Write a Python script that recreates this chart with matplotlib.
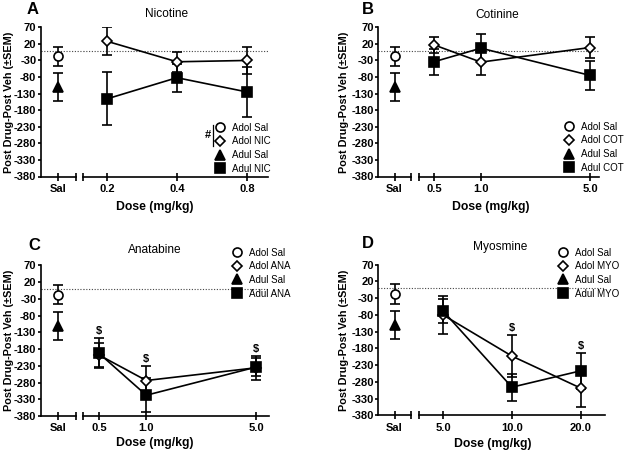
import matplotlib
matplotlib.use('Agg')
import matplotlib.pyplot as plt
import numpy as np
from matplotlib.lines import Line2D
from matplotlib.ticker import FixedLocator, NullFormatter

plt.rcParams['font.family'] = ['Liberation Sans', 'DejaVu Sans']
plt.rcParams['axes.unicode_minus'] = False

# ---------------- data ----------------
sal_label = 'Sal'
adol_sal_mean, adol_sal_sem = -18, 29
adul_sal_mean, adul_sal_sem = -110, 42

nic_doses = [0.2, 0.4, 0.8]
nic_labels = ['0.2', '0.4', '0.8']
adol_nic_mean = [28, -34, -30]
adol_nic_sem = [42, 30, 41]
adul_nic_mean = [-146, -82, -125]
adul_nic_sem = [80, 42, 75]

cot_doses = [0.5, 1.0, 5.0]
cot_labels = ['0.5', '1.0', '5.0']
adol_cot_mean = [17, -35, 9]
adol_cot_sem = [25, 38, 31]
adul_cot_mean = [-34, 7, -75]
adul_cot_sem = [40, 42, 43]

ana_doses = [0.5, 1.0, 5.0]
ana_labels = ['0.5', '1.0', '5.0']
adol_ana_mean = [-198, -274, -236]
adol_ana_sem = [37, 44, 36]
adul_ana_mean = [-193, -318, -234]
adul_ana_sem = [45, 50, 28]

myo_doses = [5.0, 10.0, 20.0]
myo_labels = ['5.0', '10.0', '20.0']
adol_myo_mean = [-80, -203, -299]
adol_myo_sem = [57, 62, 57]
adul_myo_mean = [-68, -296, -247]
adul_myo_sem = [36, 40, 53]

y_ticks = list(range(-380, 71, 50))

W, H = 625, 453
fig = plt.figure(figsize=(W / 100, H / 100), dpi=100)


def rect(x0, x1, ytop, ybot):
    return [x0 / W, 1 - ybot / H, (x1 - x0) / W, (ybot - ytop) / H]


panels = [
    dict(letter='A', title='Nicotine', doses=nic_doses, labels=nic_labels,
         adol=(adol_nic_mean, adol_nic_sem), adul=(adul_nic_mean, adul_nic_sem),
         names=['Adol Sal', 'Adol NIC', 'Adul Sal', 'Adul NIC'],
         sal=(40.5, 76), dose=(83, 268), y=(27.3, 176.5), xlim=(0.158, 0.985),
         letter_xy=(33, 10), title_xy=(167, 14), xlab_xy=(155, 207), ylab_xy=(9, 102),
         leg_xy=(219.5, 127.7), dollar=[], hash=True),
    dict(letter='B', title='Cotinine', doses=cot_doses, labels=cot_labels,
         adol=(adol_cot_mean, adol_cot_sem), adul=(adul_cot_mean, adul_cot_sem),
         names=['Adol Sal', 'Adol COT', 'Adul Sal', 'Adul COT'],
         sal=(378, 411), dose=(419, 599), y=(27.3, 176.5), xlim=(0.401, 5.71),
         letter_xy=(368, 9), title_xy=(497, 15), xlab_xy=(491, 207), ylab_xy=(344, 102),
         leg_xy=(568.7, 126.7), dollar=[], hash=False),
    dict(letter='C', title='Anatabine', doses=ana_doses, labels=ana_labels,
         adol=(adol_ana_mean, adol_ana_sem), adul=(adul_ana_mean, adul_ana_sem),
         names=['Adol Sal', 'Adol ANA', 'Adul Sal', 'Adul ANA'],
         sal=(40.5, 76), dose=(83, 269), y=(265.3, 416), xlim=(0.395, 6.05),
         letter_xy=(34, 246), title_xy=(155, 250), xlab_xy=(155, 443), ylab_xy=(9, 340),
         leg_xy=(236.7, 252.5), dollar=[0, 1, 2], hash=False),
    dict(letter='D', title='Myosmine', doses=myo_doses, labels=myo_labels,
         adol=(adol_myo_mean, adol_myo_sem), adul=(adul_myo_mean, adul_myo_sem),
         names=['Adol Sal', 'Adol MYO', 'Adul Sal', 'Adul MYO'],
         sal=(378, 411), dose=(419, 605), y=(264.7, 415.3), xlim=(3.93, 25.5),
         letter_xy=(368, 244), title_xy=(500, 247), xlab_xy=(493, 444), ylab_xy=(344, 340),
         leg_xy=(562.7, 252.5), dollar=[1, 2], hash=False),
]

LW = 1.2
CAP = 3.8
styles = {
    'adol_sal': dict(marker='o', ms=6.5, mfc='white', mec='k', mew=LW),
    'adol_drug': dict(marker='D', ms=5.4, mfc='white', mec='k', mew=LW),
    'adul_sal': dict(marker='^', ms=7.5, mfc='k', mec='k', mew=LW),
    'adul_drug': dict(marker='s', ms=7.0, mfc='k', mec='k', mew=LW),
}

for p in panels:
    ytop, ybot = p['y']
    ax_s = fig.add_axes(rect(p['sal'][0], p['sal'][1], ytop, ybot))
    ax_d = fig.add_axes(rect(p['dose'][0], p['dose'][1], ytop, ybot))
    for ax in (ax_s, ax_d):
        ax.set_ylim(-380, 70)
        ax.patch.set_visible(False)
        ax.spines['top'].set_visible(False)
        ax.spines['right'].set_visible(False)
        ax.spines['bottom'].set_linewidth(LW)
        ax.spines['left'].set_linewidth(LW)
        ax.tick_params(axis='x', which='both', direction='inout', length=5.5,
                       width=LW, pad=2.5, labelsize=8)
    ax_d.spines['left'].set_visible(False)
    ax_d.tick_params(axis='y', left=False, labelleft=False)

    # dotted zero line across both segments
    ax_s.axhline(0, xmin=0, xmax=(p['dose'][0] - p['sal'][0]) / (p['sal'][1] - p['sal'][0]),
                 ls=(0, (1, 1.5)), lw=0.8, color='#444', zorder=1, clip_on=False)
    ax_d.axhline(0, ls=(0, (1, 1.5)), lw=0.8, color='#444', zorder=1)

    # y axis
    ax_s.set_yticks(y_ticks)
    ax_s.set_yticklabels([str(v) for v in y_ticks], fontsize=8, fontweight='bold')
    ax_s.tick_params(axis='y', direction='out', length=2.2, width=LW, pad=0.8)

    # saline segment
    ax_s.set_xlim(0, 1)
    ax_s.set_xticks([0.5])
    ax_s.set_xticklabels([sal_label], fontsize=8, fontweight='bold')
    ax_s.xaxis.set_minor_locator(FixedLocator([1.0]))
    ax_s.xaxis.set_minor_formatter(NullFormatter())
    ax_s.errorbar([0.5], [adol_sal_mean], yerr=[adol_sal_sem], fmt='none', ecolor='k',
                  elinewidth=LW, capsize=CAP, capthick=LW, zorder=2)
    ax_s.errorbar([0.5], [adul_sal_mean], yerr=[adul_sal_sem], fmt='none', ecolor='k',
                  elinewidth=LW, capsize=CAP, capthick=LW, zorder=2)
    ax_s.plot([0.5], [adol_sal_mean], ls='none', zorder=4, **styles['adol_sal'])
    ax_s.plot([0.5], [adul_sal_mean], ls='none', zorder=5, **styles['adul_sal'])

    # dose segment
    ax_d.set_xscale('log')
    ax_d.set_xlim(*p['xlim'])
    ax_d.xaxis.set_major_locator(FixedLocator(p['doses']))
    ax_d.set_xticklabels(p['labels'], fontsize=8, fontweight='bold')
    ax_d.xaxis.set_minor_locator(FixedLocator([p['xlim'][0]]))
    ax_d.xaxis.set_minor_formatter(NullFormatter())

    am, asem = p['adol']
    um, usem = p['adul']
    ax_d.errorbar(p['doses'], am, yerr=asem, fmt='none', ecolor='k',
                  elinewidth=LW, capsize=CAP, capthick=LW, zorder=2)
    ax_d.errorbar(p['doses'], um, yerr=usem, fmt='none', ecolor='k',
                  elinewidth=LW, capsize=CAP, capthick=LW, zorder=2)
    ax_d.plot(p['doses'], am, color='k', lw=LW, zorder=3)
    ax_d.plot(p['doses'], um, color='k', lw=LW, zorder=3)
    ax_d.plot(p['doses'], am, ls='none', zorder=4, **styles['adol_drug'])
    ax_d.plot(p['doses'], um, ls='none', zorder=5, **styles['adul_drug'])

    for i in p['dollar']:
        top = max(am[i] + asem[i], um[i] + usem[i])
        ax_d.text(p['doses'][i], top + 6, '$', ha='center', va='bottom',
                  fontsize=8, fontweight='bold', zorder=6)

    # legend
    handles = [Line2D([], [], ls='none', **styles[k])
               for k in ('adol_sal', 'adol_drug', 'adul_sal', 'adul_drug')]
    fs = 7
    hl = 1.0
    lx = (p['leg_xy'][0] - hl * fs * 100 / 72 / 2) / W
    ly = 1 - (p['leg_xy'][1] - 5.0) / H
    leg = ax_d.legend(handles, p['names'], loc='upper left', bbox_to_anchor=(lx, ly),
                      bbox_transform=fig.transFigure, frameon=False, fontsize=fs,
                      handlelength=hl, handletextpad=0.75, labelspacing=0.38,
                      borderpad=0, borderaxespad=0)
    leg.set_zorder(10)

    # texts
    fig.text(p['letter_xy'][0] / W, 1 - p['letter_xy'][1] / H, p['letter'],
             fontsize=12, fontweight='bold', ha='center', va='center')
    fig.text(p['title_xy'][0] / W, 1 - p['title_xy'][1] / H, p['title'],
             fontsize=8.6, ha='center', va='center')
    fig.text(p['xlab_xy'][0] / W, 1 - p['xlab_xy'][1] / H, 'Dose (mg/kg)',
             fontsize=8.8, fontweight='bold', ha='center', va='center')
    fig.text(p['ylab_xy'][0] / W, 1 - p['ylab_xy'][1] / H, 'Post Drug-Post Veh (\u00b1SEM)',
             fontsize=7.8, fontweight='bold', ha='center', va='center', rotation=90)

    if p['hash']:
        fig.text(208.0 / W, 1 - 135 / H, '#', fontsize=8, fontweight='bold',
                 ha='center', va='center')
        fig.add_artist(Line2D([213.3 / W, 213.3 / W], [1 - 124.5 / H, 1 - 145.5 / H],
                              color='k', lw=0.9, transform=fig.transFigure))

fig.savefig('out.png', dpi=100)
